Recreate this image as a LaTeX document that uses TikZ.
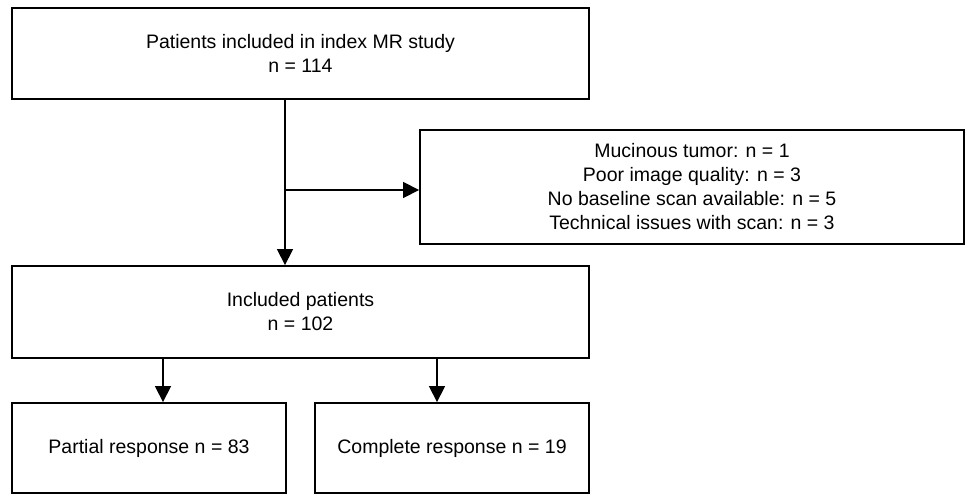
\documentclass[tikz,border=0pt]{standalone}
\usepackage{fontspec}
\setmainfont{Liberation Sans}
\usetikzlibrary{arrows.meta}

\tikzset{
  flowbox/.style={draw,line width=1.8pt,align=center,inner sep=0pt,
    font=\fontsize{19.5}{24}\selectfont},
  flowarrow/.style={line width=1.3pt,-{Triangle[length=16pt,width=16pt]}}
}

\begin{document}
\begin{tikzpicture}[x=1pt,y=-1pt]
      \useasboundingbox (0,0) rectangle (966,495);

      \node[flowbox,minimum width=577pt,minimum height=91pt] (index) at (300.5,53.5)
        {Patients included in index MR study\\n = 114};
      \node[flowbox,minimum width=544pt,minimum height=114pt] (excl) at (692,187)
        {Mucinous tumor: n = 1\\Poor image quality: n = 3\\No baseline scan available: n = 5\\Technical issues with scan: n = 3};
      \node[flowbox,minimum width=577pt,minimum height=92pt] (incl) at (300.5,312)
        {Included patients\\n = 102};
      \node[flowbox,minimum width=274pt,minimum height=90pt] (partial) at (149,448)
        {Partial response n = 83};
      \node[flowbox,minimum width=274pt,minimum height=90pt] (complete) at (452,448)
        {Complete response n = 19};

      \coordinate (branch) at (285,190);

      \draw[line width=1.3pt] (index.south -| branch) -- (branch);
      \draw[flowarrow] (branch) -- (incl.north -| branch);
      \draw[flowarrow] (branch) -- (branch -| excl.west);
      \draw[flowarrow] ([xshift=14pt]incl.south -| partial.north) -- ([xshift=14pt]partial.north);
      \draw[flowarrow] ([xshift=-15pt]incl.south -| complete.north) -- ([xshift=-15pt]complete.north);
    \end{tikzpicture}
\end{document}
